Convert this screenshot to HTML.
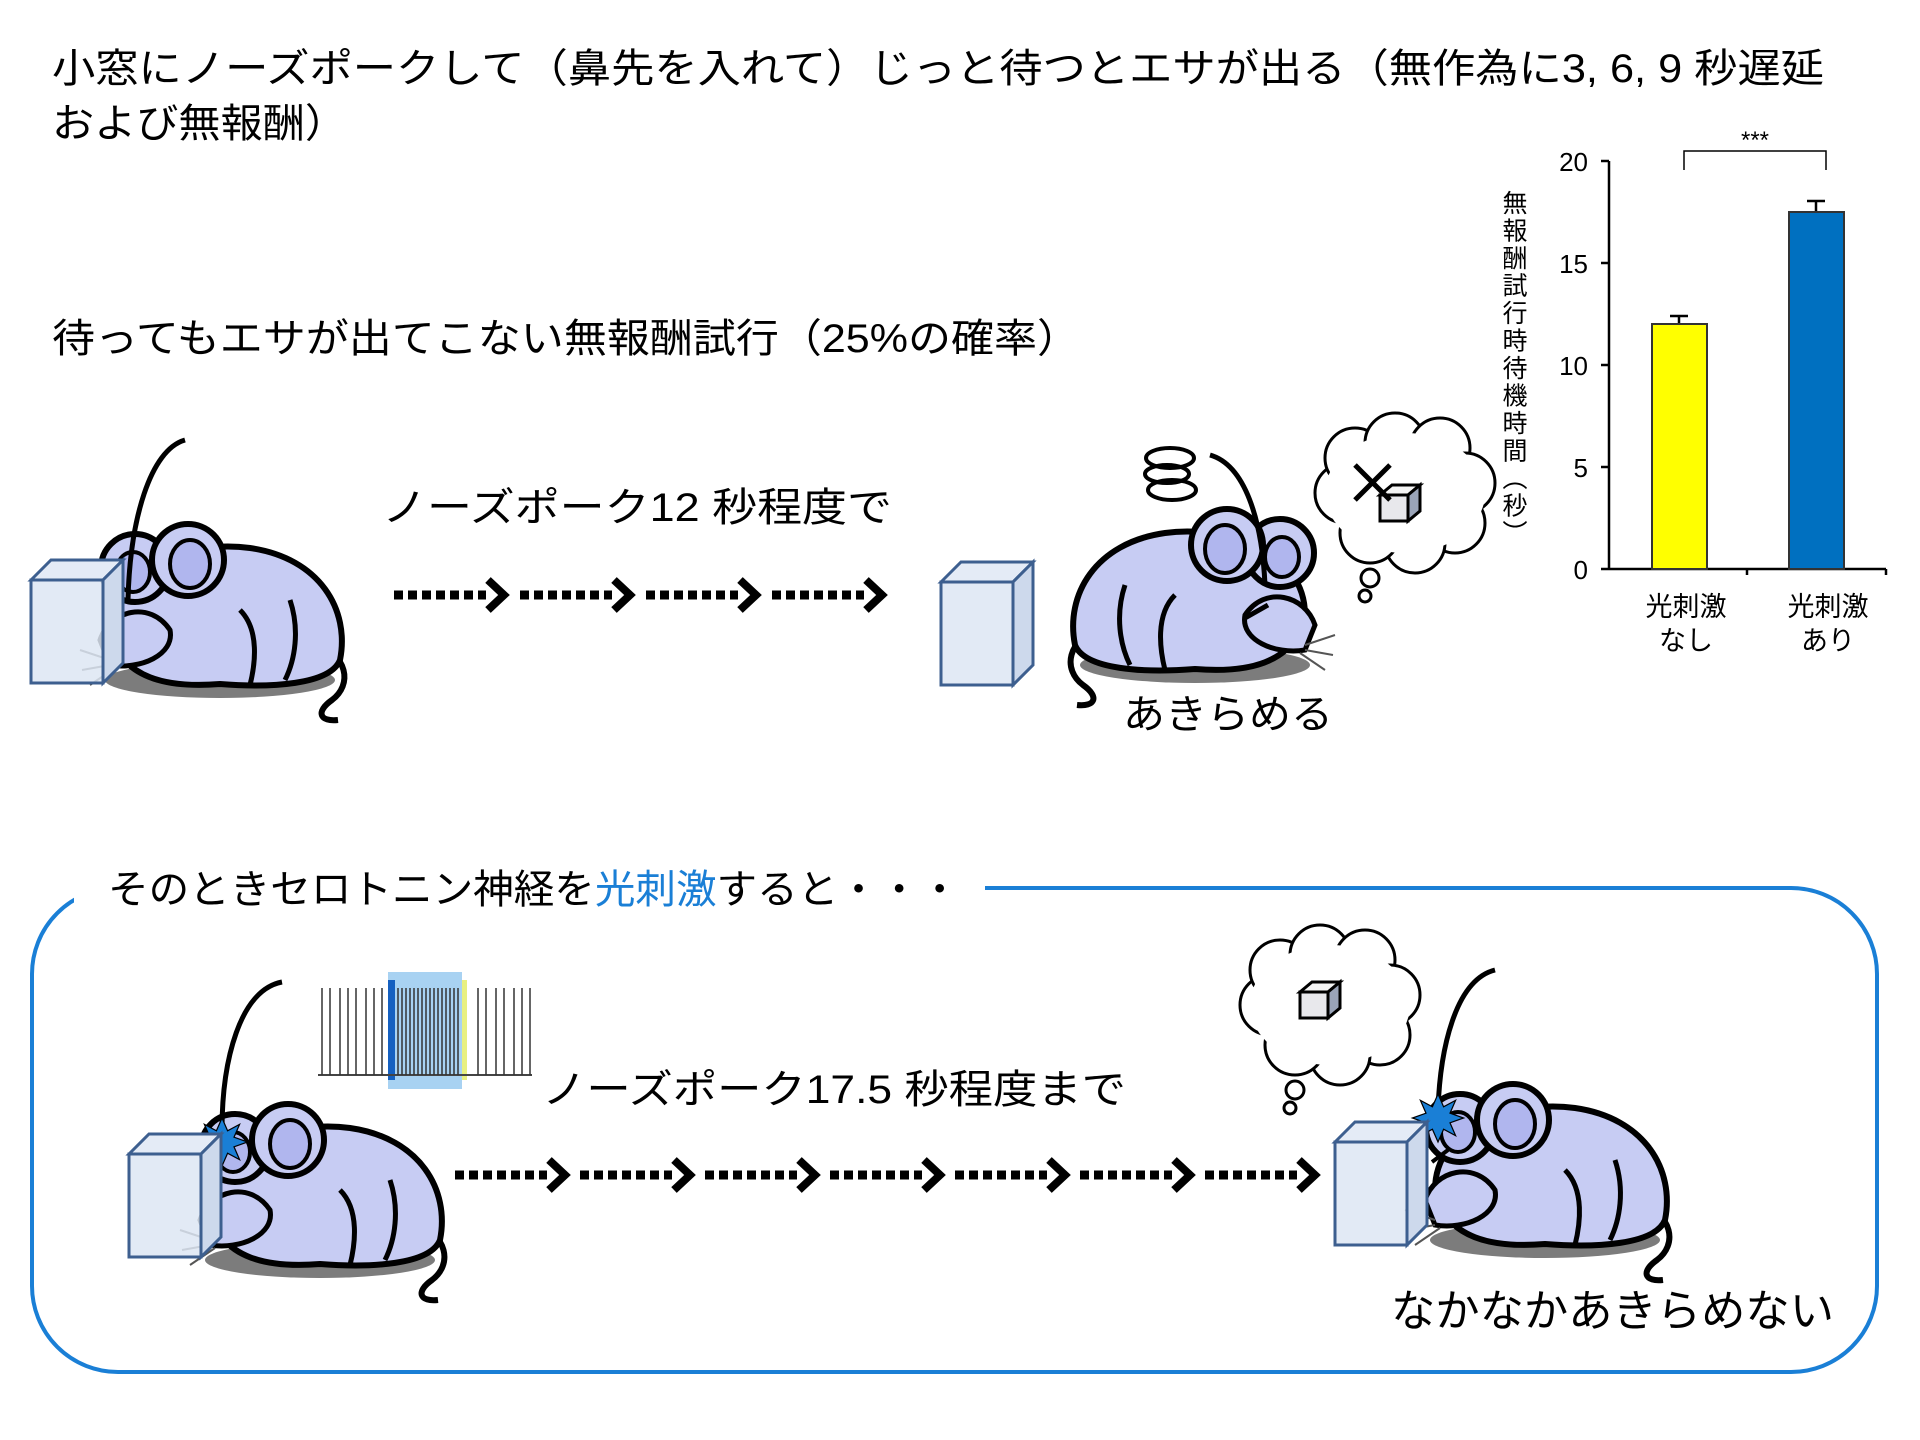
<!DOCTYPE html>
<html><head><meta charset="utf-8"><style>html,body{margin:0;padding:0;background:#fff}svg{display:block}</style></head>
<body>
<svg width="1920" height="1440" viewBox="0 0 1920 1440" xmlns="http://www.w3.org/2000/svg" font-family="'Liberation Sans','Noto Sans CJK JP',sans-serif">
<defs>
<g id="mouse">
  <ellipse cx="150" cy="190" rx="115" ry="18" fill="#444" opacity="0.7"/>
  <path d="M240 150 C280 165 282 195 262 210 C245 222 250 232 268 230" fill="none" stroke="#000" stroke-width="6"/>
  <path d="M40 140 C40 75 120 50 180 58 C250 68 280 120 270 170 C260 195 200 198 150 194 C100 198 50 190 40 140 Z" fill="#c7ccf3" stroke="#000" stroke-width="6"/>
  <circle cx="65" cy="78" r="34" fill="#c7ccf3" stroke="#000" stroke-width="6"/>
  <circle cx="118" cy="70" r="36" fill="#c7ccf3" stroke="#000" stroke-width="6"/>
  <ellipse cx="120" cy="74" rx="20" ry="24" fill="#b0b6ee" stroke="#000" stroke-width="4"/>
  <ellipse cx="63" cy="82" rx="17" ry="20" fill="#b0b6ee" stroke="#000" stroke-width="4"/>
  <path d="M30 150 C40 120 80 110 100 140 C105 165 70 180 40 175 Z" fill="#c7ccf3" stroke="#000" stroke-width="5"/>
  <path d="M40 170 L10 160 M40 175 L12 180 M45 178 L20 195" stroke="#555" stroke-width="2"/>
  <path d="M170 120 C190 140 185 175 180 195 M220 110 C230 140 225 170 215 190" fill="none" stroke="#000" stroke-width="5"/>
</g>
<g id="cube">
  <polygon points="0,20 20,0 92,0 72,20" fill="#e4ebf6" stroke="#3d5f8f" stroke-width="3"/>
  <polygon points="72,20 92,0 92,103 72,123" fill="#cdd9ec" stroke="#3d5f8f" stroke-width="3"/>
  <rect x="0" y="20" width="72" height="103" fill="#dde6f3" fill-opacity="0.85" stroke="#3d5f8f" stroke-width="3"/>
</g>
<g id="unit">
  <line x1="0" y1="0" x2="92" y2="0" stroke="#000" stroke-width="9" stroke-dasharray="9 5"/>
  <polyline points="94,-15 110,0 94,15" fill="none" stroke="#000" stroke-width="8"/>
</g>
<g id="bubble">
  <g fill="#fff" stroke="#000" stroke-width="3">
    <circle cx="30" cy="75" r="30"/><circle cx="40" cy="40" r="30"/><circle cx="80" cy="25" r="30"/><circle cx="125" cy="30" r="30"/>
    <circle cx="150" cy="65" r="30"/><circle cx="140" cy="105" r="30"/><circle cx="100" cy="125" r="30"/><circle cx="55" cy="115" r="30"/>
  </g>
  <ellipse cx="90" cy="75" rx="80" ry="60" fill="#fff"/>
  <circle cx="55" cy="160" r="9" fill="#fff" stroke="#000" stroke-width="3"/>
  <circle cx="50" cy="178" r="6" fill="#fff" stroke="#000" stroke-width="3"/>
</g>
<g id="sugar">
  <polygon points="0,10 12,0 40,0 28,10" fill="#f4f4f4" stroke="#000" stroke-width="3"/>
  <polygon points="28,10 40,0 40,26 28,36" fill="#9aa4b8" stroke="#000" stroke-width="3"/>
  <rect x="0" y="10" width="28" height="26" fill="#e8e8ec" stroke="#000" stroke-width="3"/>
</g>
<polygon id="star" points="0,-30 7,-14 22,-22 15,-6 32,0 15,6 22,22 7,14 0,30 -7,14 -22,22 -15,6 -32,0 -15,-6 -22,-22 -7,-14" fill="#1a7fd6" stroke="#000" stroke-width="1.5"/>
</defs>

<!-- Title -->
<text x="52" y="82" font-size="40" textLength="1772" lengthAdjust="spacingAndGlyphs">小窓にノーズポークして（鼻先を入れて）じっと待つとエサが出る（無作為に3, 6, 9 秒遅延</text>
<text x="52" y="137" font-size="40" textLength="295" lengthAdjust="spacingAndGlyphs">および無報酬）</text>
<text x="52" y="352" font-size="40" textLength="1028" lengthAdjust="spacingAndGlyphs">待ってもエサが出てこない無報酬試行（25%の確率）</text>

<!-- Row 1 -->
<use href="#mouse" x="70" y="490"/>
<path d="M185 440 C150 450 130 520 128 600" fill="none" stroke="#000" stroke-width="5"/>
<use href="#cube" x="31" y="560"/>
<text x="382" y="521" font-size="40" textLength="510" lengthAdjust="spacingAndGlyphs">ノーズポーク12 秒程度で</text>
<use href="#unit" x="394" y="595"/><use href="#unit" x="520" y="595"/><use href="#unit" x="646" y="595"/><use href="#unit" x="772" y="595"/>
<use href="#cube" x="941" y="562"/>
<g transform="translate(1345,475) scale(-1,1)"><use href="#mouse" x="0" y="0"/></g>
<path d="M1210 455 C1245 465 1262 520 1265 585" fill="none" stroke="#000" stroke-width="5"/>
<path d="M1268 605 L1245 618" stroke="#000" stroke-width="5"/>
<g fill="none" stroke="#000" stroke-width="4">
<ellipse cx="1170" cy="458" rx="24" ry="10"/><ellipse cx="1167" cy="474" rx="22" ry="9"/><ellipse cx="1172" cy="490" rx="24" ry="10"/>
</g>
<use href="#bubble" x="1315" y="418"/>
<use href="#sugar" x="1380" y="485"/>
<path d="M1355 465 L1390 500 M1390 465 L1355 500" stroke="#000" stroke-width="5"/>
<text x="1123" y="728" font-size="40" textLength="210" lengthAdjust="spacingAndGlyphs">あきらめる</text>

<!-- Chart -->
<g transform="translate(-6,0)">
<g font-family="'Liberation Sans',sans-serif" font-size="26" text-anchor="end">
<text x="1594" y="171">20</text><text x="1594" y="273">15</text><text x="1594" y="375">10</text><text x="1594" y="477">5</text><text x="1594" y="579">0</text>
</g>
<g stroke="#000" stroke-width="2.5" fill="none">
<line x1="1615" y1="161" x2="1615" y2="570"/>
<line x1="1607" y1="161" x2="1615" y2="161"/><line x1="1607" y1="263" x2="1615" y2="263"/><line x1="1607" y1="365" x2="1615" y2="365"/><line x1="1607" y1="467" x2="1615" y2="467"/><line x1="1607" y1="569" x2="1892" y2="569"/>
<line x1="1753" y1="569" x2="1753" y2="575"/><line x1="1892" y1="569" x2="1892" y2="575"/>
<line x1="1685" y1="324" x2="1685" y2="316"/><line x1="1676" y1="316" x2="1694" y2="316"/>
<line x1="1822" y1="212" x2="1822" y2="201"/><line x1="1813" y1="201" x2="1831" y2="201"/>
<path d="M1690 170 V151 H1832 V170" stroke-width="1.5"/>
</g>
<rect x="1658" y="324" width="55" height="245" fill="#ffff00" stroke="#333" stroke-width="2"/>
<rect x="1795" y="212" width="55" height="357" fill="#0070c0" stroke="#333" stroke-width="2"/>
<text x="1761" y="148" font-size="24" text-anchor="middle" font-family="'Liberation Sans',sans-serif">***</text>
<g font-size="27" text-anchor="middle">
<text x="1692" y="616">光刺激</text><text x="1692" y="650">なし</text>
<text x="1834" y="616">光刺激</text><text x="1834" y="650">あり</text>
</g>
</g>
<text x="1513" y="190" font-size="25" style="writing-mode:tb" letter-spacing="2.5">無報酬試行時待機時間（秒）</text>

<!-- Bottom panel -->
<rect x="32" y="888" width="1845" height="484" rx="86" fill="none" stroke="#1a7fd6" stroke-width="4"/>
<rect x="74" y="870" width="911" height="40" fill="#fff"/>
<text x="108" y="903" font-size="40" textLength="852" lengthAdjust="spacingAndGlyphs">そのときセロトニン神経を<tspan fill="#1a7fd6">光刺激</tspan>すると・・・</text>

<!-- spike trace -->
<rect x="388" y="972" width="74" height="117" fill="#a8d2f2"/>
<rect x="388" y="980" width="7" height="100" fill="#1560c0"/>
<rect x="462" y="980" width="5" height="100" fill="#e8f080"/>
<path d="M318 1075 H532" stroke="#444" stroke-width="2"/>
<g stroke="#333" stroke-width="1.5">
<path d="M322 1075V988M330 1075V988M340 1075V988M348 1075V988M356 1075V988M366 1075V988M374 1075V988M382 1075V988"/>
<path d="M398 1075V988M402 1075V988M406 1075V988M410 1075V988M414 1075V988M418 1075V988M422 1075V988M426 1075V988M430 1075V988M434 1075V988M438 1075V988M442 1075V988M446 1075V988M450 1075V988M454 1075V988M458 1075V988"/>
<path d="M478 1075V988M486 1075V988M496 1075V988M504 1075V988M514 1075V988M522 1075V988M530 1075V988"/>
</g>

<use href="#mouse" x="170" y="1070"/>
<path d="M282 982 C240 990 222 1060 222 1130" fill="none" stroke="#000" stroke-width="5"/>
<use href="#star" transform="translate(222,1142) scale(0.8)"/>
<use href="#cube" x="129" y="1134"/>
<text x="542" y="1103" font-size="40" textLength="584" lengthAdjust="spacingAndGlyphs">ノーズポーク17.5 秒程度まで</text>
<use href="#unit" x="455" y="1175"/><use href="#unit" x="580" y="1175"/><use href="#unit" x="705" y="1175"/><use href="#unit" x="830" y="1175"/><use href="#unit" x="955" y="1175"/><use href="#unit" x="1080" y="1175"/><use href="#unit" x="1205" y="1175"/>

<use href="#mouse" x="1395" y="1050"/>
<path d="M1495 970 C1455 980 1440 1050 1438 1110" fill="none" stroke="#000" stroke-width="5"/>
<use href="#star" transform="translate(1438,1118) scale(0.8)"/>
<path d="M1448 1150 L1432 1162" stroke="#000" stroke-width="4"/>
<use href="#cube" x="1335" y="1122"/>
<use href="#bubble" x="1240" y="930"/>
<use href="#sugar" x="1300" y="982"/>
<text x="1391" y="1326" font-size="44" textLength="443" lengthAdjust="spacingAndGlyphs">なかなかあきらめない</text>
</svg>
</body></html>
